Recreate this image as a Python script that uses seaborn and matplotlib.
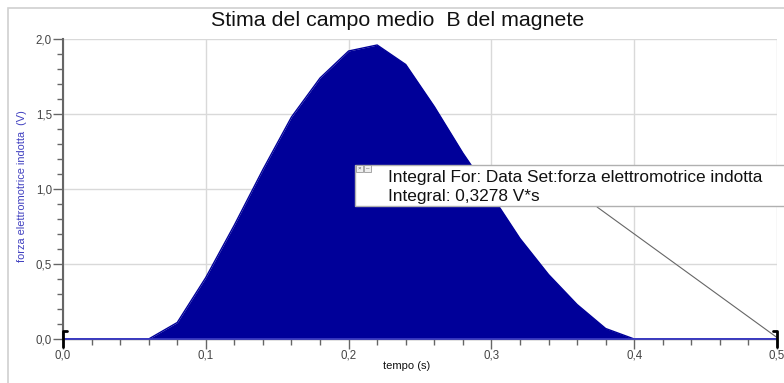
import matplotlib
matplotlib.use("Agg")
import matplotlib.pyplot as plt
import matplotlib.ticker as mticker
from matplotlib.patches import Rectangle
import seaborn as sns
import pandas as pd

# ---- data ----
tempo = [0.00, 0.02, 0.04, 0.06, 0.08, 0.10, 0.12, 0.14, 0.16, 0.18, 0.20, 0.22, 0.24,
         0.26, 0.28, 0.30, 0.32, 0.34, 0.36, 0.38, 0.40, 0.42, 0.44, 0.46, 0.48, 0.50]
fem = [0.00, 0.00, 0.00, 0.00, 0.11, 0.41, 0.76, 1.13, 1.48, 1.74, 1.92, 1.96, 1.83,
       1.55, 1.24, 0.96, 0.67, 0.43, 0.23, 0.07, 0.00, 0.00, 0.00, 0.00, 0.00, 0.00]
integral_range = [0.0, 0.5]
title = "Stima del campo medio  B del magnete"
xlabel = "tempo (s)"
ylabel = "forza elettromotrice indotta  (V)"
box_line1 = "Integral For: Data Set:forza elettromotrice indotta"
box_line2 = "Integral: 0,3278 V*s"
leader_start = (0.374, 0.88)

df = pd.DataFrame({"tempo": tempo, "fem": fem})

sns.set_theme(style="white")
plt.rcParams['font.family'] = ['Liberation Sans', 'DejaVu Sans']

W, H = 784, 383
fig = plt.figure(figsize=(W / 100, H / 100), dpi=100)
fig.patch.set_facecolor("white")

def fx(px):
    return px / W

def fy(py):
    return 1 - py / H

ax = fig.add_axes([fx(63), fy(339), fx(777) - fx(63), fy(39) - fy(339)])
ax.set_xlim(0, 0.5)
ax.set_ylim(0, 2.0)

ax.fill_between(df["tempo"], df["fem"], 0, color="#000099", lw=0, zorder=2)
sns.lineplot(data=df, x="tempo", y="fem", ax=ax, color="#000099", lw=1.0, zorder=3)
ax.axhline(0, xmin=0, xmax=1, color="#3a3ac8", lw=1.2, zorder=4, clip_on=False)

# ticks / grid
ax.xaxis.set_major_locator(mticker.MultipleLocator(0.1))
ax.xaxis.set_minor_locator(mticker.MultipleLocator(0.02))
ax.yaxis.set_major_locator(mticker.MultipleLocator(0.5))
ax.yaxis.set_minor_locator(mticker.MultipleLocator(0.1))
fmt = mticker.FuncFormatter(lambda v, p: f"{v:.1f}".replace(".", ","))
ax.xaxis.set_major_formatter(fmt)
ax.yaxis.set_major_formatter(fmt)
ax.tick_params(axis="both", which="major", length=7, width=1, color="#666666",
               labelsize=8.3, labelcolor="#444444", direction="out")
ax.tick_params(axis="x", which="major", pad=0.5)
ax.tick_params(axis="y", which="major", pad=1)
ax.tick_params(axis="both", which="minor", length=4, width=1, color="#666666", direction="out")
ax.tick_params(axis="x", bottom=True, which="both")
ax.tick_params(axis="y", left=True, which="both")
ax.grid(True, which="major", color="#d9d9d9", lw=1, zorder=0)
ax.set_axisbelow(True)
for s in ["top", "right"]:
    ax.spines[s].set_visible(False)
ax.spines["left"].set_color("#666666")
ax.spines["left"].set_linewidth(1.5)
ax.spines["bottom"].set_color("#666666")
ax.spines["bottom"].set_linewidth(1)

ax.set_xlabel(xlabel, fontsize=8, color="#111111")
ax.xaxis.set_label_coords((407 - 63) / (777 - 63), -0.072)
ax.set_ylabel(ylabel, fontsize=7.9, color="#4040c0")
ax.yaxis.set_label_coords(-(63 - 27) / (777 - 63), (339 - 186) / 300)

# integral range brackets
bh = 8 / 150
bw = 0.003
x0, x1 = integral_range
ax.plot([x0 + bw, x0, x0], [bh, bh, -bh], color="black", lw=2, clip_on=False, zorder=6)
ax.plot([x1 - bw, x1, x1], [bh, bh, -bh], color="black", lw=2, clip_on=False, zorder=6)

# leader line
ax.plot([leader_start[0], x1], [leader_start[1], 0.01], color="#666666", lw=0.8, zorder=5)

# title
fig.text(fx(398), fy(21), title, ha="center", va="center", fontsize=15.4, color="#111111")

# outer frame
fig.add_artist(Rectangle((fx(8), fy(390)), fx(800), fy(8) - fy(390), transform=fig.transFigure,
                         fill=False, edgecolor="#d0d0d0", lw=1.2))

# annotation box
fig.add_artist(Rectangle((fx(355), fy(206)), fx(450), fy(165) - fy(206), transform=fig.transFigure,
                         facecolor="white", edgecolor="#b0b0b0", lw=1, zorder=10))
for xi, ch in [(356, "×"), (364, "–")]:
    fig.add_artist(Rectangle((fx(xi), fy(172)), fx(7), fy(165) - fy(172), transform=fig.transFigure,
                             facecolor="#eeeeee", edgecolor="#999999", lw=0.6, zorder=11))
    fig.text(fx(xi + 3.5), fy(168.5), ch, ha="center", va="center", fontsize=4.5,
             color="#555555", zorder=12)
fig.text(fx(388), fy(177.5), box_line1, ha="left", va="center", fontsize=12.45,
         color="#111111", zorder=12)
fig.text(fx(388), fy(196), box_line2, ha="left", va="center", fontsize=12.45,
         color="#111111", zorder=12)

fig.savefig("out.png", dpi=100, facecolor="white")
